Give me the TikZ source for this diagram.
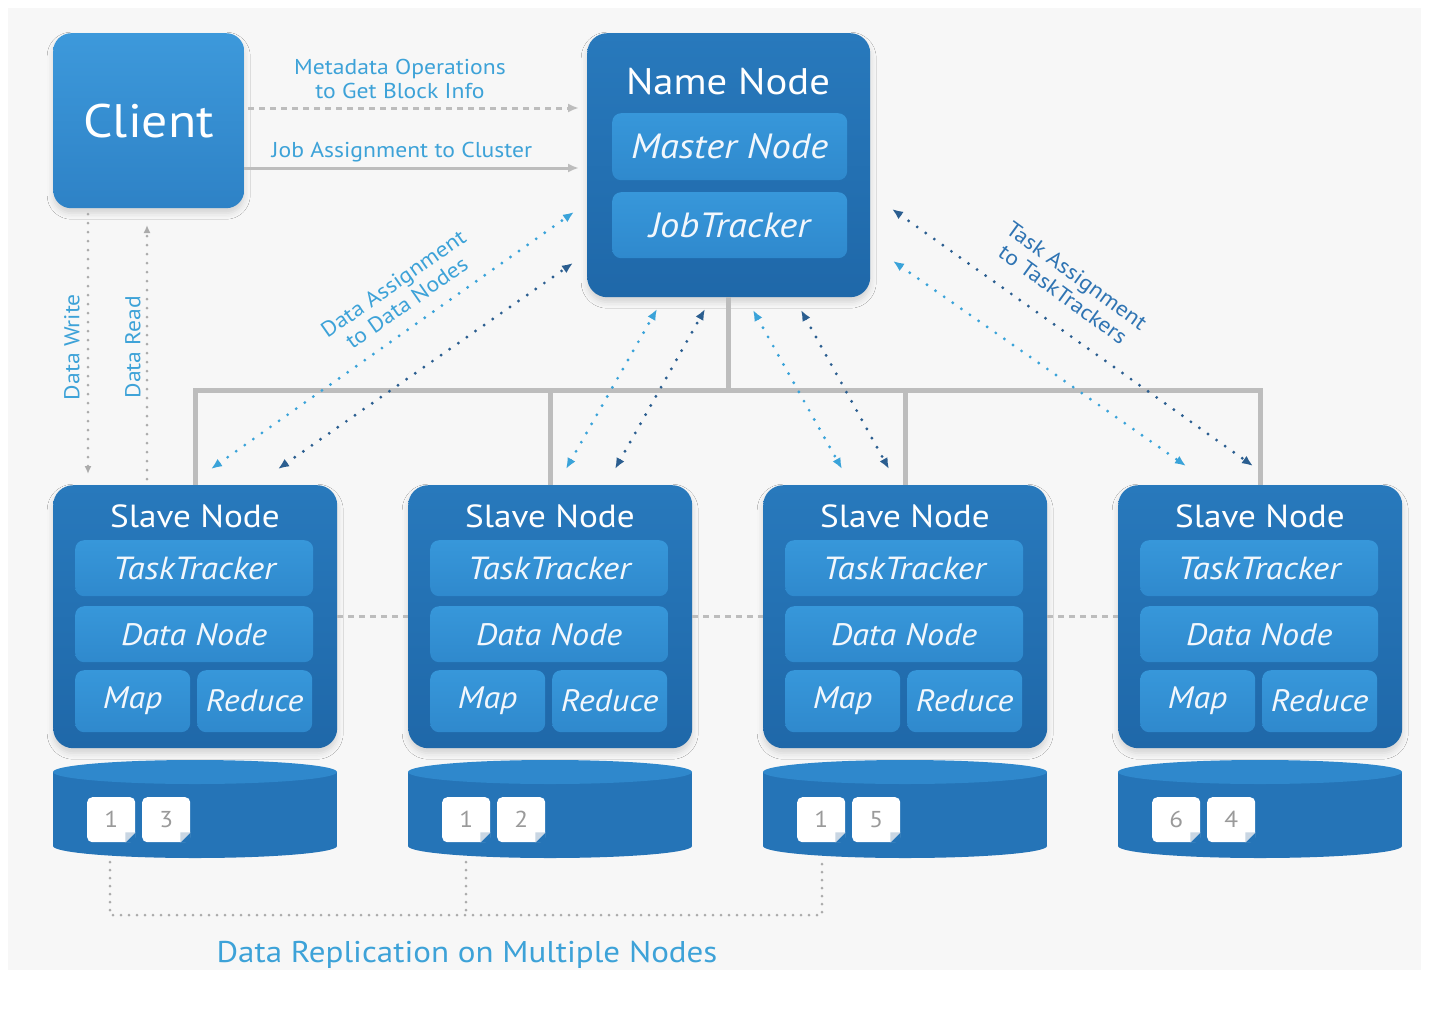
\documentclass[tikz,border=0pt]{standalone}
\usepackage{fontspec}
\setmainfont{PT Sans}[FakeStretch=1.1]
\usetikzlibrary{arrows.meta,shadows.blur}
\definecolor{bgc}{HTML}{F7F7F7}
\definecolor{clitop}{HTML}{3D99DB}
\definecolor{clibot}{HTML}{2E82C6}
\definecolor{outtop}{HTML}{2879BC}
\definecolor{outbot}{HTML}{1F68A9}
\definecolor{intop}{HTML}{3797DA}
\definecolor{inbot}{HTML}{2F89CD}
\definecolor{diskbody}{HTML}{2574B7}
\definecolor{disktop}{HTML}{2F88CC}
\definecolor{lblue}{HTML}{3DA2D8}
\definecolor{tblue}{HTML}{2F74B3}
\definecolor{lgrey}{HTML}{BDBDBD}
\definecolor{dgrey}{HTML}{ABABAB}
\definecolor{dotlight}{HTML}{3AA3D9}
\definecolor{dotdark}{HTML}{2B5E90}
\definecolor{numgrey}{HTML}{9A9A9A}
\definecolor{foldc}{HTML}{C9D6E3}
\definecolor{txtw}{HTML}{F2F7FC}
\begin{document}
\begin{tikzpicture}[x=1pt,y=-1pt,
  shad/.style={blur shadow={shadow xshift=0pt,shadow yshift=-5pt,shadow blur radius=6pt,shadow opacity=14}},
  clientbox/.style={rectangle,rounded corners=18pt,top color=clitop,bottom color=clibot,anchor=north west,inner sep=0pt,minimum width=191pt,minimum height=175pt,shad,text=white,font=\fontsize{47}{47}\selectfont},
  outerbox/.style={rectangle,rounded corners=20pt,top color=outtop,bottom color=outbot,anchor=north west,inner sep=0pt,shad},
  innerbox/.style={rectangle,rounded corners=9pt,top color=intop,bottom color=inbot,anchor=north west,inner sep=0pt,text=txtw,font=\fontsize{31}{31}\selectfont\itshape},
  titletext/.style={text=white,inner sep=0pt},
  lbl/.style={text=lblue,font=\fontsize{21.5}{23.5}\selectfont,align=center,inner sep=0pt},
  greyarrow/.style={draw=lgrey,line width=3pt,-{Latex[length=11pt,width=9pt]}},
  bus/.style={draw=lgrey,line width=5pt},
  sdash/.style={draw=lgrey,line width=3pt,dash pattern=on 6pt off 5pt},
  greydot/.style={draw=dgrey,line width=3pt,line cap=round,dash pattern=on 0pt off 9pt},
  repl/.style={draw=dgrey,line width=3pt,line cap=round,dash pattern=on 0pt off 8pt},
  dotl/.style={draw=dotlight,line width=3.2pt,line cap=round,dash pattern=on 0pt off 10.5pt,{Latex[length=11pt,width=9pt]}-{Latex[length=11pt,width=9pt]}},
  dotd/.style={dotl,draw=dotdark},
  doc/.style={rectangle,rounded corners=5pt,fill=white,anchor=north west,minimum width=48pt,minimum height=45pt,inner sep=0pt,text=numgrey,font=\fontsize{23}{23}\selectfont}
]
\useasboundingbox (0,0) rectangle (1448,1012);
\fill[bgc] (8,8) rectangle (1421,970);

\coordinate (busY) at (0,390);

% Client
\node[clientbox] (cl) at (53,33) {Client};

% Name node
\node[outerbox,minimum width=283pt,minimum height=264pt] (nn) at (587,33) {};
\node[titletext,font=\fontsize{37}{37}\selectfont] (nnt) at (728,82) {Name Node};
\node[innerbox,minimum width=235pt,minimum height=67pt,font=\fontsize{35}{35}\selectfont\itshape] (mn) at (612,113) {Master Node};
\node[innerbox,minimum width=235pt,minimum height=66pt,font=\fontsize{35}{35}\selectfont\itshape] (jt) at (612,192) {JobTracker};

% Slave nodes and disks
\foreach \i/\a/\b in {0/1/3,1/1/2,2/1/5,3/6/4}{
  \pgfmathsetmacro\L{53+355*\i}
  \node[outerbox,minimum width=284pt,minimum height=263pt] (s\i) at (\L,485) {};
  \node[titletext,font=\fontsize{32}{32}\selectfont] (st\i) at (\L+142,516) {Slave Node};
  \node[innerbox,minimum width=238pt,minimum height=56pt,font=\fontsize{32}{32}\selectfont\itshape] (tt\i) at (\L+22,540) {TaskTracker};
  \node[innerbox,minimum width=238pt,minimum height=56pt] (dn\i) at (\L+22,606) {Data Node};
  \node[innerbox,minimum width=115pt,minimum height=62pt] (mp\i) at (\L+22,670) {Map};
  \node[innerbox,minimum width=115pt,minimum height=62pt] (rd\i) at (\L+144,670) {Reduce};
  \fill[diskbody] (\L,772) rectangle (\L+284,846);
  \fill[diskbody] (\L+142,846) ellipse [x radius=142, y radius=12];
  \fill[disktop] (\L+142,772) ellipse [x radius=142, y radius=12];
  \node[anchor=north west,minimum width=284pt,minimum height=98pt,inner sep=0pt] (dk\i) at (\L,760) {};
  \node[doc] (da\i) at (\L+34,797) {\a};
  \node[doc] (db\i) at (\L+89,797) {\b};
  \fill[diskbody] (da\i.south east) ++(-10,0) -- ++(10,-10) -- ++(0,10) -- cycle;
  \fill[foldc] (da\i.south east) ++(-10,0) -- ++(10,-10) -- ++(-10,0) -- cycle;
  \fill[diskbody] (db\i.south east) ++(-10,0) -- ++(10,-10) -- ++(0,10) -- cycle;
  \fill[foldc] (db\i.south east) ++(-10,0) -- ++(10,-10) -- ++(-10,0) -- cycle;
}

\draw[bus] (nn.south) -- (nn.south |- busY);
\draw[bus] (s0.north) -- (s0.north |- busY) -- (s3.north |- busY) -- (s3.north);
\draw[bus] (s1.north) -- (s1.north |- busY);
\draw[bus] (s2.north) -- (s2.north |- busY);

\draw[sdash] (s0.east) -- (s1.west);
\draw[sdash] (s1.east) -- (s2.west);
\draw[sdash] (s2.east) -- (s3.west);

% client arrows
\coordinate (m1) at (248,108);
\coordinate (m2) at (579,108);
\coordinate (j1) at (244,168);
\coordinate (j2) at (579,168);
\draw[greyarrow,dash pattern=on 6pt off 5pt] (m1) -- (m2);
\draw[greyarrow] (j1) -- (j2);
\node[lbl] (mdl) at (400,79) {Metadata Operations\\to Get Block Info};
\node[lbl] (jal) at (402,152) {Job Assignment to Cluster};

% data write / read
\coordinate (dw1) at (88,214);
\coordinate (dw2) at (88,474);
\coordinate (dr1) at (147,479);
\coordinate (dr2) at (147,225);
\draw[greydot,-{Latex[length=8pt,width=7pt]}] (dw1) -- (dw2);
\draw[greydot,-{Latex[length=8pt,width=7pt]}] (dr1) -- (dr2);
\node[lbl,rotate=90] (dwl) at (72,347) {Data Write};
\node[lbl,rotate=90] (drl) at (133,347) {Data Read};

% dotted assignment arrows
\coordinate (a1) at (211,469); \coordinate (a2) at (574,212);
\coordinate (b1) at (278,469); \coordinate (b2) at (573,263);
\coordinate (c1) at (566,469); \coordinate (c2) at (657,309);
\coordinate (d1) at (615,469); \coordinate (d2) at (705,309);
\coordinate (e1) at (753,310); \coordinate (e2) at (842,469);
\coordinate (f1) at (801,310); \coordinate (f2) at (889,469);
\coordinate (g1) at (892,209); \coordinate (g2) at (1253,466);
\coordinate (h1) at (893,261); \coordinate (h2) at (1186,466);
\draw[dotl] (a1) -- (a2);
\draw[dotd] (b1) -- (b2);
\draw[dotl] (c1) -- (c2);
\draw[dotd] (d1) -- (d2);
\draw[dotl] (e1) -- (e2);
\draw[dotd] (f1) -- (f2);
\draw[dotd] (g1) -- (g2);
\draw[dotl] (h1) -- (h2);
\node[lbl,rotate=35] (dal) at (400,293) {Data Assignment\\to Data Nodes};
\node[lbl,text=tblue,rotate=-36] (tal) at (1070,285) {Task Assignment\\to TaskTrackers};

% replication
\coordinate (rb) at (0,915);
\coordinate (r0) at (110,862);
\coordinate (r1) at (466,862);
\coordinate (r2) at (822,862);
\draw[repl] (r0) -- (r0 |- rb) -- (r2 |- rb) -- (r2);
\draw[repl] (r1) -- (r1 |- rb);
\node[text=lblue,font=\fontsize{30}{30}\selectfont,inner sep=0pt] (drep) at (467,955) {Data Replication on Multiple Nodes};
\end{tikzpicture}
\end{document}
